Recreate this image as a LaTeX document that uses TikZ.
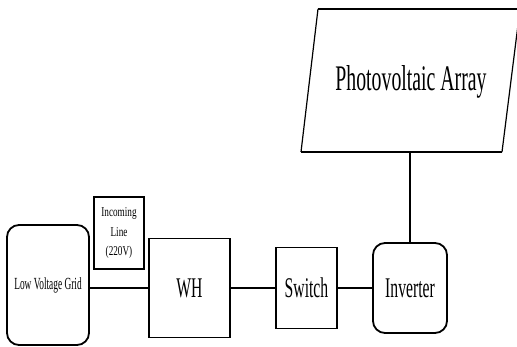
\documentclass[tikz,border=0pt]{standalone}
\usepackage{fontspec}
\setmainfont{Liberation Serif}
\newfontfamily\narrowfont[FakeStretch=0.55]{Liberation Serif}
\newfontfamily\narrowsmall[FakeStretch=0.68]{Liberation Serif}
\begin{document}
\begin{tikzpicture}[x=1pt,y=-1pt,
  box/.style={draw=black,line width=1.8pt,inner sep=0pt,align=center},
  rbox/.style={box,rounded corners=12pt},
  wire/.style={line width=2pt},
  thinwire/.style={line width=1.3pt}]
\useasboundingbox (0,0) rectangle (517,347);
\clip (0,0) rectangle (517,347);
\node[rbox,minimum width=82pt,minimum height=120pt,
  font={\narrowfont\fontsize{17}{19}\selectfont}] (lvg) at (48,285) {Low Voltage Grid};
\node[box,minimum width=50pt,minimum height=72pt,
  font={\narrowsmall\fontsize{13.5}{19.5}\selectfont}] (inc) at (119,233) {Incoming\\Line\\(220V)};
\node[box,minimum width=81pt,minimum height=99pt,
  font={\narrowfont\fontsize{28.5}{30}\selectfont}] (wh) at (189.5,288) {WH};
\node[box,minimum width=61pt,minimum height=81pt,
  font={\narrowfont\fontsize{28.5}{30}\selectfont}] (sw) at (306.5,288) {Switch};
\node[rbox,minimum width=74pt,minimum height=90pt,
  font={\narrowfont\fontsize{28.5}{30}\selectfont}] (inv) at (410,288) {Inverter};
% Photovoltaic array parallelogram
\coordinate (pvtl) at (318,9);
\coordinate (pvtr) at (520,9);
\coordinate (pvbr) at (502,152);
\coordinate (pvbl) at (301,152);
\coordinate (pvb) at (410,152);
\draw[line width=1.2pt,line join=miter] (pvbl) -- (pvtl);
\draw[line width=1.2pt] (pvtr) -- (pvbr);
\draw[line width=2.5pt] (pvtl) -- (pvtr);
\draw[line width=2pt] (pvbl) -- (pvbr);
\node[font={\narrowfont\fontsize{36}{38}\selectfont},anchor=base] (pv) at (411,91) {Photovoltaic Array};
% connectors
\draw[wire] (lvg.east |- wh.west) -- (wh.west);
\draw[wire] (wh.east) -- (sw.west);
\draw[wire] (sw.east) -- (inv.west);
\draw[thinwire] (inv.north) -- (pvb);
\end{tikzpicture}
\end{document}
